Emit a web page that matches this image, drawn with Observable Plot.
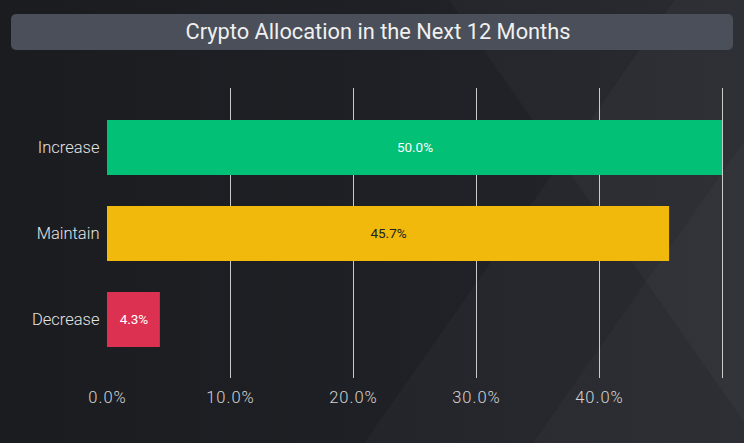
<!DOCTYPE html>
<html>
<head>
<meta charset="utf-8">
<script src="https://cdn.jsdelivr.net/npm/d3@7"></script>
<script src="https://cdn.jsdelivr.net/npm/@observablehq/plot@0.6"></script>
<style>
  html, body { margin: 0; padding: 0; }
  body {
    width: 744px; height: 443px; overflow: hidden; position: relative;
    background:
      linear-gradient(125deg, rgba(0,0,0,0) 64%, rgba(255,255,255,0.025) 64%, rgba(255,255,255,0.025) 80%, rgba(255,255,255,0.045) 80%),
      linear-gradient(55deg, rgba(0,0,0,0) 72%, rgba(255,255,255,0.025) 72%),
      linear-gradient(90deg, #1b1c20 0%, #1f2025 50%, #25262c 100%);
    font-family: Roboto, "Noto Sans", sans-serif;
  }
  #title {
    position: absolute; left: 11px; top: 14px; width: 710px; padding-left: 12px; height: 36px;
    background: #4a4f59; border-radius: 5px;
    color: #f0f0f0; font-size: 21.8px; line-height: 36px; text-align: center;
    font-family: Roboto, sans-serif;
  }
  #chart { position: absolute; left: 0; top: 55px; }
  #chart svg g[aria-label="x-axis tick label"] text { letter-spacing: 1px; }
</style>
</head>
<body>
<div id="title">Crypto Allocation in the Next 12 Months</div>
<div id="chart"></div>
<script>
const categories = ["Increase", "Maintain", "Decrease"];
const values = [50.0, 45.7, 4.3];
const colors = ["#02c076", "#f0b90b", "#dc3150"];
const labelColors = ["#ffffff", "#222222", "#ffffff"];
const tickValues = [0, 10, 20, 30, 40];
const gridValues = [10, 20, 30, 40, 50];

const data = categories.map((c, i) => ({category: c, value: values[i], color: colors[i], labelColor: labelColors[i]}));

const chart = Plot.plot({
  width: 744,
  height: 388,
  marginLeft: 107,
  marginRight: 22,
  marginTop: 33,
  marginBottom: 65,
  style: {background: "transparent", fontFamily: "Roboto, sans-serif", fontWeight: 300},
  x: {domain: [0, 50], axis: null},
  y: {domain: categories, padding: 0.364, axis: null},
  marks: [
    Plot.ruleX(gridValues, {stroke: "#e6e6e6", strokeWidth: 1, strokeOpacity: 0.85}),
    Plot.barX(data, {y: "category", x: "value", fill: "color"}),
    Plot.text(data, {y: "category", x: d => d.value / 2, text: d => d.value.toFixed(1) + "%", fill: "labelColor", fontSize: 13.5, fontWeight: 400}),
    Plot.axisY({tickSize: 0, tickPadding: 8, fontSize: 16.5, color: "#e4e4e4", label: null}),
    Plot.axisX(tickValues, {tickSize: 0, tickPadding: 13, fontSize: 16.5, color: "#d4d4d4", label: null, tickFormat: d => d.toFixed(1) + "%"})
  ]
});
document.getElementById("chart").appendChild(chart);
</script>
</body>
</html>
